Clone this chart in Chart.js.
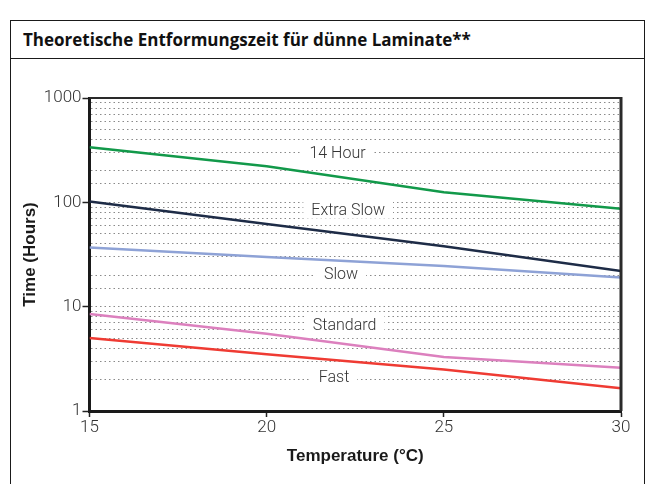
<!DOCTYPE html>
<html>
<head>
<meta charset="utf-8">
<script src="https://cdn.jsdelivr.net/npm/chart.js@4.4.1/dist/chart.umd.min.js"></script>
<style>
  html, body { margin: 0; padding: 0; background: #fff; }
  #frame {
    position: absolute; left: 10px; top: 20px; width: 633px; height: 500px;
    border: 1.5px solid #1a1a1a;
  }
  #titlebar {
    height: 37px; border-bottom: 1.5px solid #1a1a1a;
    font-family: "Open Sans", sans-serif; font-weight: 700; font-size: 17px;
    line-height: 38px; padding-left: 12px; color: #111;
  }
  #wrap { position: absolute; left: 0; top: 0; width: 651px; height: 484px; }
</style>
</head>
<body>
<div id="frame"><div id="titlebar">Theoretische Entformungszeit für dünne Laminate**</div></div>
<div id="wrap"><canvas id="grafico"></canvas></div>
<script>
'use strict'

// temperatures (°C)
const temps = [15, 20, 25, 30];

// hours per series
const hour14    = [338, 222, 125, 87];
const extraSlow = [102, 62, 38, 22];
const slow      = [37, 30, 24.5, 19];
const standard  = [8.5, 5.5, 3.3, 2.6];
const fast      = [5.0, 3.5, 2.5, 1.65];

const seriesNames = ['14 Hour', 'Extra Slow', 'Slow', 'Standard', 'Fast'];
const seriesColors = ['#12994a', '#1e2c47', '#8ea2d6', '#dc80be', '#ef3b33'];

// where the series names sit on the chart (temperature, hours)
const labelTemps = [22.0, 22.3, 22.1, 22.2, 21.9];
const labelHours = [300, 85, 20.5, 6.7, 2.1];

const lightFont = { family: 'Roboto', weight: 300, size: 17 };

const toPoints = vals => temps.map((t, i) => ({ x: t, y: vals[i] }));

const allSeries = [hour14, extraSlow, slow, standard, fast];

const data = {
  datasets: allSeries.map((vals, i) => ({
    label: seriesNames[i],
    data: toPoints(vals),
    borderColor: seriesColors[i],
    backgroundColor: seriesColors[i],
    borderWidth: 2.5,
    pointRadius: 0,
    tension: 0
  }))
};

// white boxes with the series names + frame on top/right
const etiquetas = {
  id: 'etiquetas',
  afterDatasetsDraw(chart) {
    const { ctx, scales: { x, y }, chartArea: ca } = chart;
    ctx.save();
    ctx.font = '300 16px Roboto';
    ctx.textAlign = 'center';
    ctx.textBaseline = 'middle';
    seriesNames.forEach((name, i) => {
      const px = x.getPixelForValue(labelTemps[i]);
      const py = y.getPixelForValue(labelHours[i]);
      const w = ctx.measureText(name).width + 16;
      ctx.fillStyle = '#fff';
      ctx.fillRect(px - w / 2, py - 9, w, 18);
      ctx.fillStyle = '#333';
      ctx.fillText(name, px, py + 1);
    });
    ctx.strokeStyle = '#2a2a2a';
    ctx.lineWidth = 2;
    ctx.beginPath();
    ctx.moveTo(ca.left, ca.top);
    ctx.lineTo(ca.right, ca.top);
    ctx.stroke();
    ctx.lineWidth = 3;
    ctx.beginPath();
    ctx.moveTo(ca.right, ca.top - 1);
    ctx.lineTo(ca.right, ca.bottom);
    ctx.stroke();
    ctx.restore();
  }
};

const isMajor = v => Math.abs(Math.log10(v) - Math.round(Math.log10(v))) < 1e-9;

const config = {
  type: 'line',
  data: data,
  plugins: [etiquetas],
  options: {
    responsive: false,
    animation: false,
    layout: { padding: { left: 0, right: 30, top: 98, bottom: 0 } },
    plugins: { legend: { display: false }, tooltip: { enabled: false } },
    scales: {
      x: {
        type: 'linear',
        min: 15,
        max: 30,
        afterFit(scale) { scale.height = 73; },
        ticks: { stepSize: 5, color: '#333', font: lightFont, padding: 1 },
        grid: { drawOnChartArea: false, tickLength: 6, tickColor: '#222', tickWidth: 1.5 },
        border: { color: '#1a1a1a', width: 3 },
        title: {
          display: true,
          text: 'Temperature (°C)',
          color: '#1a1a1a',
          font: { family: 'Liberation Sans', weight: 'bold', size: 17 },
          padding: { top: 0, bottom: 17 }
        }
      },
      y: {
        type: 'logarithmic',
        min: 1,
        max: 1000,
        afterFit(scale) { scale.width = 89.5; },
        ticks: {
          autoSkip: false,
          color: '#333',
          font: lightFont,
          padding: 1,
          callback: v => (isMajor(v) ? String(Math.round(v)) : '')
        },
        grid: {
          color: '#8a8a8a',
          lineWidth: 1,
          tickLength: 7,
          tickWidth: 1.5,
          tickBorderDash: [],
          tickColor: c => (c.tick && isMajor(c.tick.value) ? '#222' : 'rgba(0,0,0,0)')
        },
        border: { color: '#1a1a1a', width: 3, dash: [1.5, 3] },
        title: {
          display: true,
          text: 'Time (Hours)',
          color: '#1a1a1a',
          font: { family: 'Liberation Sans', weight: 'bold', size: 17 },
          padding: { top: 20, bottom: 0 }
        }
      }
    }
  }
};

const canvas = document.querySelector('#grafico');
canvas.width = 651;
canvas.height = 484;
const GraficoEntformung = new Chart(canvas, config);
</script>
</body>
</html>
